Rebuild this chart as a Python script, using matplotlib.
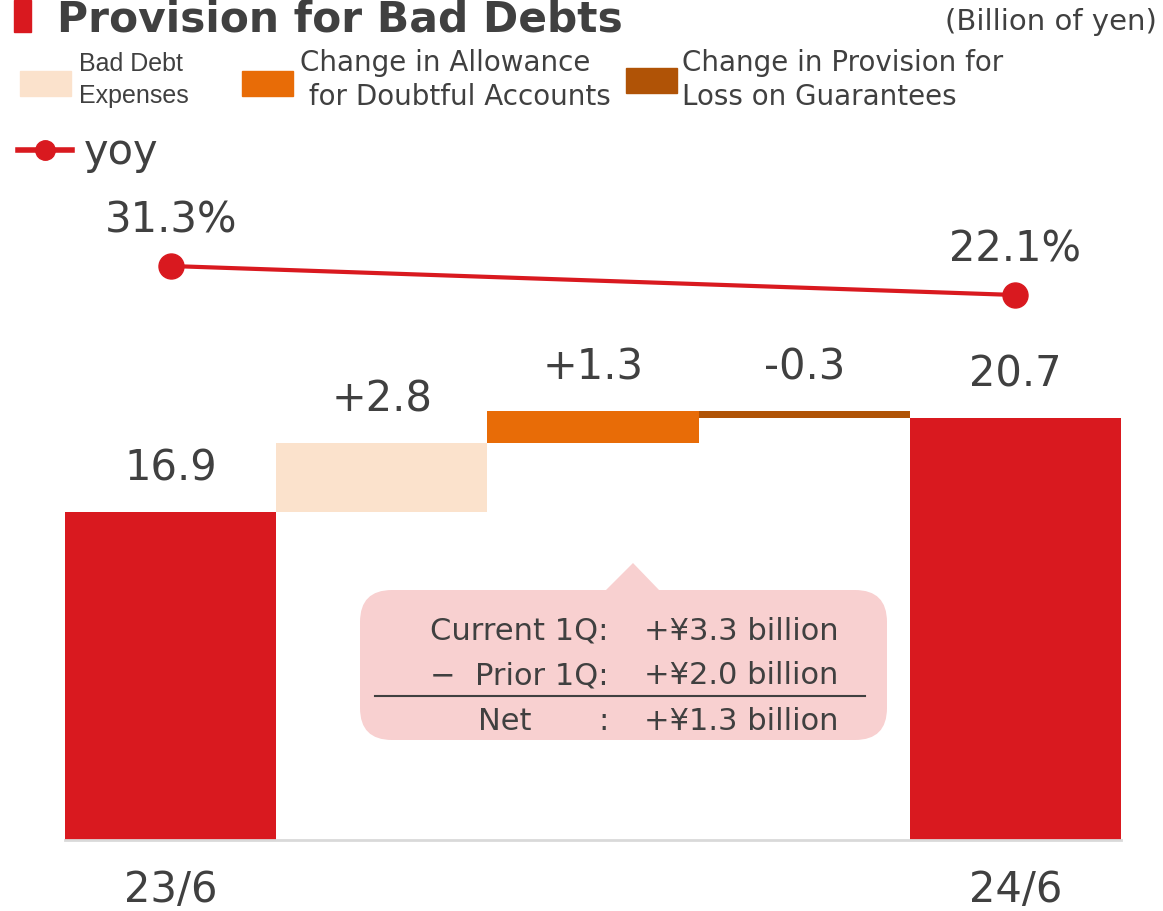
import matplotlib.pyplot as plt
import matplotlib.patches as mpatches
from matplotlib.lines import Line2D
from matplotlib.transforms import IdentityTransform
import numpy as np

# data
categories = ['23/6', 'Bad Debt Expenses', 'Allowance', 'Guarantees', '24/6']
totals = [16.9, 20.7]
changes = [2.8, 1.3, -0.3]
change_labels = ['+2.8', '+1.3', '-0.3']
yoy = [31.3, 22.1]
yoy_labels = ['31.3%', '22.1%']

RED = '#d9191f'
PALE = '#fbe2cc'
ORANGE = '#e86c07'
BROWN = '#b05306'
TXT = '#404040'
PINK = '#f8d0d0'

W, H = 1163, 911
fig = plt.figure(figsize=(W / 100, H / 100), dpi=100)
plt.rcParams['font.family'] = ['DejaVu Sans']


def fx(x, y):
    return x / W, 1 - y / H


ax = fig.add_axes([65 / W, (H - 840) / H, 1056 / W, 690 / H])

# totals
ax.bar([0, 4], totals, width=1.0, color=RED, bottom=0)
# waterfall steps
level = totals[0]
step_cols = [PALE, ORANGE, BROWN]
for i, (v, c, lab) in enumerate(zip(changes, step_cols, change_labels)):
    ax.bar(i + 1, v, bottom=level, width=1.0, color=c)
    top = max(level, level + v)
    ax.annotate(lab, (i + 1, top), xytext=(0, 31), textcoords='offset points',
                ha='center', va='center', fontsize=30, color=TXT)
    level += v

for xi, v in zip([0, 4], totals):
    ax.annotate(f'{v:.1f}', (xi, v), xytext=(0, 31), textcoords='offset points',
                ha='center', va='center', fontsize=30, color=TXT)

ax.set_xlim(-0.5, 4.5)
ax.set_ylim(3.64, 31.53)
ax.set_xticks([0, 4])
ax.set_xticklabels(['23/6', '24/6'], fontsize=30, color=TXT)
ax.tick_params(axis='x', length=0, pad=21)
ax.set_yticks([])
for s in ['top', 'left', 'right']:
    ax.spines[s].set_visible(False)
ax.spines['bottom'].set_color('#d9d9d9')
ax.spines['bottom'].set_linewidth(2)
ax.patch.set_alpha(0)

# yoy line
ax2 = ax.twinx()
ax2.plot([0, 4], yoy, color=RED, lw=3, marker='o', markersize=18)
for xi, v, lab in zip([0, 4], yoy, yoy_labels):
    ax2.annotate(lab, (xi, v), xytext=(0, 33), textcoords='offset points',
                 ha='center', va='center', fontsize=30, color=TXT)
ax2.set_ylim(-150.8, 68.1)
ax2.set_yticks([])
for s in ax2.spines.values():
    s.set_visible(False)

# title
fig.patches.append(mpatches.Rectangle(fx(14, 32), 17 / W, 32 / H, transform=fig.transFigure,
                                      color=RED))
fig.text(*fx(57, 32), 'Provision for Bad Debts', fontsize=30.5, fontweight='bold',
         color=TXT, ha='left', va='baseline')
fig.text(*fx(1157, 22), '(Billion of yen)', fontsize=21, color=TXT, ha='right', va='center')

# legend
for x0, y0, c in [(20, 96, PALE), (242, 96, ORANGE), (626, 93, BROWN)]:
    fig.patches.append(mpatches.Rectangle(fx(x0, y0), 51 / W, 25 / H,
                                          transform=fig.transFigure, color=c))
fig.text(*fx(79, 80), 'Bad Debt\nExpenses', fontsize=18, color=TXT, ha='left', va='center',
         family=['Liberation Sans', 'DejaVu Sans'], linespacing=1.45)
fig.text(*fx(300, 80), 'Change in Allowance\n for Doubtful Accounts', fontsize=20, color=TXT,
         ha='left', va='center', linespacing=1.3)
fig.text(*fx(682, 80), 'Change in Provision for\nLoss on Guarantees', fontsize=20, color=TXT,
         ha='left', va='center', linespacing=1.3)
fig.lines.append(Line2D([18 / W, 72 / W], [1 - 150 / H] * 2, transform=fig.transFigure,
                        color=RED, lw=4))
fig.lines.append(Line2D([45 / W], [1 - 150 / H], transform=fig.transFigure,
                        color=RED, marker='o', markersize=14, lw=0))
fig.text(*fx(84, 152), 'yoy', fontsize=30, color=TXT, ha='left', va='center')

# callout box
ident = IdentityTransform()
box = mpatches.FancyBboxPatch((360, H - 740), 527, 150,
                              boxstyle='round,pad=0,rounding_size=32',
                              transform=ident, facecolor=PINK, edgecolor='none')
fig.patches.append(box)
tri = mpatches.Polygon([(605, H - 591), (633, H - 563), (660, H - 591)], closed=True,
                       transform=ident, facecolor=PINK, edgecolor='none')
fig.patches.append(tri)
fig.lines.append(Line2D([375 / W, 865 / W], [1 - 696 / H] * 2, transform=fig.transFigure,
                        color=TXT, lw=1.5))
rows = [('Current 1Q:', '+¥3.3 billion', 631), ('−  Prior 1Q:', '+¥2.0 billion', 676)]
for lab, val, yy in rows:
    fig.text(*fx(608, yy), lab, fontsize=22, color=TXT, ha='right', va='center')
    fig.text(*fx(644, yy), val, fontsize=22, color=TXT, ha='left', va='center')
fig.text(*fx(505, 721), 'Net', fontsize=22, color=TXT, ha='center', va='center')
fig.text(*fx(603, 721), ':', fontsize=22, color=TXT, ha='center', va='center')
fig.text(*fx(644, 721), '+¥1.3 billion', fontsize=22, color=TXT, ha='left', va='center')

fig.savefig('out.png', dpi=100)
